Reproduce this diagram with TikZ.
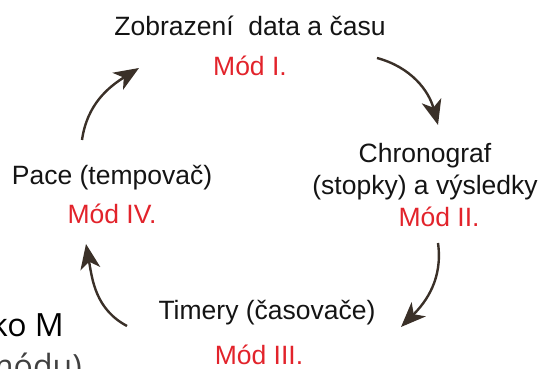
\documentclass[tikz,border=0pt]{standalone}
\usepackage{fontspec}
\setmainfont{Liberation Sans}
\newfontfamily\keyfont{Open Sans}
\usepackage{tikz}
\usetikzlibrary{positioning, arrows.meta}
\definecolor{modred}{RGB}{226,35,43}
\definecolor{cyclebrown}{RGB}{58,48,40}

\begin{document}
\begin{tikzpicture}[
    x=1pt, y=1pt,
    title/.style={inner sep=0pt, text=black!92, font=\fontsize{26.5}{32}\selectfont, text height=19pt, text depth=6pt},
    mode/.style={inner sep=0pt, text=modred, font=\fontsize{26.5}{32}\selectfont, text height=19pt, text depth=6pt},
    keytext/.style={inner sep=0pt, font=\keyfont\fontsize{32}{38}\selectfont},
    cycle/.style={draw=cyclebrown, line width=2.4pt, -{Stealth[length=25pt, width=20pt, inset=7pt]}}
]
\useasboundingbox (0,0) rectangle (542,369);
\clip (0,0) rectangle (542,369);

% ========== MODY ==========
\node[title, anchor=base] (datum) at (250,333) {Zobrazení\ \ data a času};
\node[mode, below=14pt of datum] (modI) {Mód I.};

\node[inner sep=0pt, text=black!92, font=\fontsize{26.5}{32}\selectfont, align=center, anchor=north] (chrono) at (425,225.5) {Chronograf\\(stopky) a výsledky};
\node[mode, below=7pt of chrono, xshift=14pt] (modII) {Mód II.};

\node[title, anchor=base] (timery) at (267,49) {Timery (časovače)};
\node[mode, below=19pt of timery, xshift=-8pt] (modIII) {Mód III.};

\node[title, anchor=base] (pace) at (112,184) {Pace (tempovač)};
\node[mode, below=13pt of pace] (modIV) {Mód IV.};

% ========== TLACITKO ==========
\node[keytext, anchor=base east] (tlacitko) at (64,32) {ko M};
\node[keytext, text=black!75, anchor=base east] (prepinani) at (82,-9) {módu)};

% ========== SIPKY ==========
\coordinate (s1) at (82,229);  \coordinate (e1) at (139,301);
\coordinate (s2) at (377,311); \coordinate (e2) at (438,244);
\coordinate (s3) at (438,126); \coordinate (e3) at (401,42);
\coordinate (s4) at (127,43);  \coordinate (e4) at (86,125);

\draw[cycle] (s1) to[out=82, in=212] (e1);
\draw[cycle] (s2) to[out=-15, in=105] (e2);
\draw[cycle] (s3) to[out=-82, in=45] (e3);
\draw[cycle] (s4) to[out=152, in=-80] (e4);

\end{tikzpicture}
\end{document}
